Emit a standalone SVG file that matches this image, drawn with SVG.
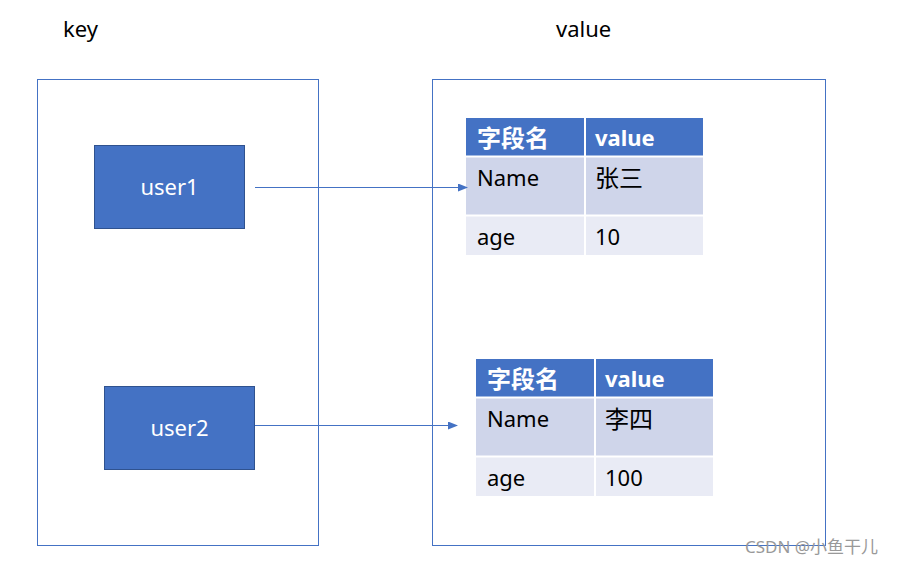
<svg xmlns="http://www.w3.org/2000/svg" width="913" height="565" viewBox="0 0 913 565">
<defs>
<style>
text{font-family:"Noto Sans","Noto Sans CJK SC",sans-serif;font-size:22px;fill:#000}
.frame{fill:#fff;stroke:#4472C4;stroke-width:1}
.key{fill:#4472C4;stroke:#2F528F;stroke-width:1}
.kt{fill:#fff;text-anchor:middle}
.hd{fill:#4472C4}
.r1{fill:#CFD5EA}
.r2{fill:#E9EBF5}
.ht{fill:#fff;font-weight:bold}
.cj{font-size:24px}
.sep{stroke:#fff;stroke-width:2}
.conn{stroke:#4472C4;stroke-width:1;fill:none}
</style>
<marker id="arr" markerWidth="10" markerHeight="8" refX="9" refY="4" orient="auto" markerUnits="userSpaceOnUse">
<path d="M0,0 L10,4 L0,8 Z" fill="#4472C4"/>
</marker>
</defs>
<rect width="913" height="565" fill="#fff"/>
<text x="63" y="37">key</text>
<text x="556" y="37">value</text>
<g id="keyFrame"><rect class="frame" x="37.5" y="79.5" width="281" height="466"/></g>
<g id="valueFrame"><rect class="frame" x="432.5" y="79.5" width="393" height="466"/></g>
<g id="user1"><rect class="key" x="94.5" y="145.5" width="150" height="83"/><text class="kt" x="169.5" y="195">user1</text></g>
<g id="user2"><rect class="key" x="104.5" y="386.5" width="150" height="83"/><text class="kt" x="179.5" y="436">user2</text></g>
<g id="table1">
<rect class="hd" x="466" y="118" width="237" height="38"/>
<rect class="r1" x="466" y="157" width="237" height="58"/>
<rect class="r2" x="466" y="216" width="237" height="39"/>
<line class="sep" x1="585" y1="118" x2="585" y2="255"/>
<line class="sep" x1="466" y1="156.5" x2="703" y2="156.5"/>
<line class="sep" x1="466" y1="215.5" x2="703" y2="215.5"/>
<text class="ht cj" x="477" y="147">字段名</text>
<text class="ht" x="595" y="146">value</text>
<text x="477" y="186">Name</text>
<text class="cj" x="595" y="187">张三</text>
<text x="477" y="245">age</text>
<text x="595" y="245">10</text>
</g>
<g id="table2">
<rect class="hd" x="476" y="359" width="237" height="38"/>
<rect class="r1" x="476" y="398" width="237" height="58"/>
<rect class="r2" x="476" y="457" width="237" height="39"/>
<line class="sep" x1="595" y1="359" x2="595" y2="496"/>
<line class="sep" x1="476" y1="397.5" x2="713" y2="397.5"/>
<line class="sep" x1="476" y1="456.5" x2="713" y2="456.5"/>
<text class="ht cj" x="487" y="388">字段名</text>
<text class="ht" x="605" y="387">value</text>
<text x="487" y="427">Name</text>
<text class="cj" x="605" y="428">李四</text>
<text x="487" y="486">age</text>
<text x="605" y="486">100</text>
</g>
<g id="connectors">
<line class="conn" x1="255" y1="187.5" x2="467" y2="187.5" marker-end="url(#arr)"/>
<line class="conn" x1="255" y1="425.5" x2="457" y2="425.5" marker-end="url(#arr)"/>
</g>
<text x="745" y="553" style="font-size:17px;fill:#999">CSDN @小鱼干儿</text>
</svg>
